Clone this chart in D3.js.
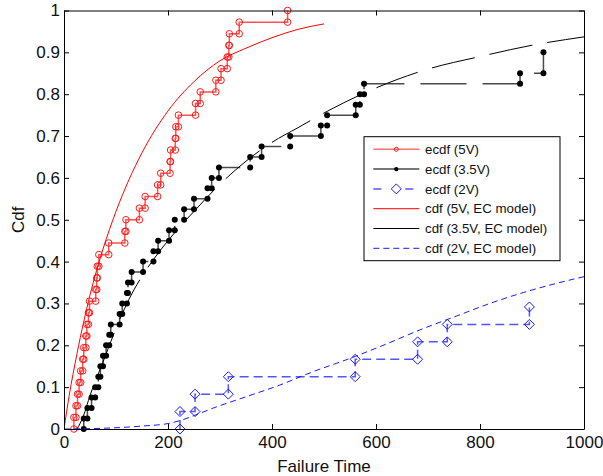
<!DOCTYPE html>
<html>
<head>
<meta charset="utf-8">
<script src="https://cdn.jsdelivr.net/npm/d3@7"></script>
<style>
  html, body { margin: 0; padding: 0; background: #fff; }
  svg { display: block; font-family: "Liberation Sans", Arial, Helvetica, sans-serif; }
</style>
</head>
<body>
<svg id="chart" width="603" height="476"></svg>
<script>
// Failure times (observed failures) for each stress level
const failures5V = [19, 23, 26, 29, 32, 36, 38, 42, 44, 47, 49, 61, 63, 64, 67, 86, 117, 119, 145, 156,
                    180, 186, 204, 205, 214, 215, 220, 253, 262, 292, 302, 314, 317, 318, 337, 430];
const failures35V = [38, 45, 53, 60, 66, 70, 75, 81, 87, 90, 107, 112, 121, 123, 130, 152, 172, 181, 202, 213,
                     231, 250, 276, 284, 298, 358, 380, 435, 494, 506, 561, 569, 577, 877, 922, 922];
const failures2V = [223, 252, 316, 560, 680, 737, 895];
// Sample sizes (units on test) per stress level
const sampleSizes = { "5V": 36, "3.5V": 40, "2V": 24 };

// EC model cdf, sampled at [time, probability]
const model5V = [[0, 0], [10, 0.08], [25, 0.18], [50, 0.32], [75, 0.43], [100, 0.52], [150, 0.66],
                 [200, 0.76], [250, 0.83], [300, 0.88], [350, 0.91], [400, 0.935], [450, 0.955], [500, 0.968]];
const model35V = [[25, 0], [37, 0.03], [50, 0.08], [75, 0.16], [100, 0.24], [125, 0.31], [150, 0.365],
                  [175, 0.41], [200, 0.45], [250, 0.52], [300, 0.585], [350, 0.64], [400, 0.685],
                  [450, 0.72], [500, 0.755], [600, 0.815], [700, 0.86], [800, 0.89], [900, 0.917], [1000, 0.937]];
const model2V = [[0, 0], [100, 0.003], [150, 0.007], [200, 0.013], [223, 0.02], [250, 0.032], [287, 0.05],
                 [350, 0.077], [415, 0.105], [479, 0.137], [544, 0.166], [608, 0.197], [691, 0.24],
                 [755, 0.27], [819, 0.30], [883, 0.326], [947, 0.348], [1000, 0.364]];

const xTicks = [0, 200, 400, 600, 800, 1000];
const xTickLabels = ["0", "200", "400", "600", "800", "1000"];
const yTicks = [0, 0.1, 0.2, 0.3, 0.4, 0.5, 0.6, 0.7, 0.8, 0.9, 1];
const yTickLabels = ["0", "0.1", "0.2", "0.3", "0.4", "0.5", "0.6", "0.7", "0.8", "0.9", "1"];
const legendLabels = ["ecdf (5V)", "ecdf (3.5V)", "ecdf (2V)",
                      "cdf (5V, EC model)", "cdf (3.5V, EC model)", "cdf (2V, EC model)"];

const svg = d3.select("#chart");
const plot = { left: 64, right: 584, top: 10.5, bottom: 429 };

const x = d3.scaleLinear().domain([0, 1000]).range([plot.left, plot.right]);
const y = d3.scaleLinear().domain([0, 1]).range([plot.bottom, plot.top]);

svg.append("defs").append("clipPath").attr("id", "clip")
  .append("rect").attr("x", plot.left).attr("y", plot.top - 6)
  .attr("width", plot.right - plot.left).attr("height", plot.bottom - plot.top + 12);

// Empirical cdf as stair vertices: (t, F before) then (t, F after)
function ecdfVertices(times, n) {
  const sorted = times.slice().sort((a, b) => a - b);
  const groups = d3.rollups(sorted, v => v.length, d => d).sort((a, b) => a[0] - b[0]);
  const pts = [];
  let cum = 0;
  groups.forEach(([t, c]) => {
    pts.push([t, cum / n]);
    cum += c;
    pts.push([t, cum / n]);
  });
  return pts;
}

const stairLine = d3.line().x(d => x(d[0])).y(d => y(d[1]));
const curveLine = d3.line().x(d => x(d[0])).y(d => y(d[1])).curve(d3.curveMonotoneX);

const g = svg.append("g").attr("clip-path", "url(#clip)");

const diamond = (cx, cy, r) => `M${cx},${cy - r}L${cx + r},${cy}L${cx},${cy + r}L${cx - r},${cy}Z`;

// ecdf 5V
const e5 = ecdfVertices(failures5V, sampleSizes["5V"]);
g.append("path").attr("d", stairLine(e5)).attr("fill", "none")
  .attr("stroke", "#ff5252").attr("stroke-width", 1.5);
g.selectAll(".m5").data(e5).join("circle")
  .attr("cx", d => x(d[0])).attr("cy", d => y(d[1])).attr("r", 3.3)
  .attr("fill", "none").attr("stroke", "#ff1a1a").attr("stroke-width", 1);

// ecdf 3.5V
const e35 = ecdfVertices(failures35V, sampleSizes["3.5V"]);
g.append("path").attr("d", stairLine(e35)).attr("fill", "none")
  .attr("stroke", "#4a4a4a").attr("stroke-width", 1.5).attr("stroke-dasharray", "46,16");
g.selectAll(".m35").data(e35).join("circle")
  .attr("cx", d => x(d[0])).attr("cy", d => y(d[1])).attr("r", 3)
  .attr("fill", "#000");

// ecdf 2V
const e2 = ecdfVertices(failures2V, sampleSizes["2V"]);
g.append("path").attr("d", stairLine(e2)).attr("fill", "none")
  .attr("stroke", "#5555ff").attr("stroke-width", 1.5).attr("stroke-dasharray", "9,5");
g.selectAll(".m2").data(e2).join("path")
  .attr("d", d => diamond(x(d[0]), y(d[1]), 5))
  .attr("fill", "none").attr("stroke", "#1a1aff").attr("stroke-width", 1);

// EC model curves
g.append("path").attr("d", curveLine(model5V)).attr("fill", "none")
  .attr("stroke", "#ff0000").attr("stroke-width", 1);
g.append("path").attr("d", curveLine(model35V)).attr("fill", "none")
  .attr("stroke", "#000").attr("stroke-width", 1).attr("stroke-dasharray", "44,15");
g.append("path").attr("d", curveLine(model2V)).attr("fill", "none")
  .attr("stroke", "#1a1aff").attr("stroke-width", 1).attr("stroke-dasharray", "6,4");

// Axes: inward ticks on all four sides
const tickFont = 17;
svg.append("g").attr("transform", `translate(0,${plot.bottom})`)
  .call(d3.axisBottom(x).tickValues(xTicks).tickFormat((d, i) => xTickLabels[i])
    .tickSizeInner(-5).tickSizeOuter(0).tickPadding(7));
svg.append("g").attr("transform", `translate(${plot.left},0)`)
  .call(d3.axisLeft(y).tickValues(yTicks).tickFormat((d, i) => yTickLabels[i])
    .tickSizeInner(-5).tickSizeOuter(0).tickPadding(4));
svg.append("g").attr("transform", `translate(0,${plot.top})`)
  .call(d3.axisTop(x).tickValues(xTicks).tickFormat("").tickSizeInner(-5).tickSizeOuter(0));
svg.append("g").attr("transform", `translate(${plot.right},0)`)
  .call(d3.axisRight(y).tickValues(yTicks).tickFormat("").tickSizeInner(-5).tickSizeOuter(0));

svg.selectAll(".domain, .tick line").attr("stroke", "#000").attr("stroke-width", 1);
svg.selectAll(".tick text").attr("font-size", tickFont).attr("fill", "#111")
  .attr("font-family", "'Liberation Sans', Arial, sans-serif");

// Axis titles
svg.append("text").attr("x", (plot.left + plot.right) / 2).attr("y", 471.5)
  .attr("text-anchor", "middle").attr("font-size", 17).attr("fill", "#111").text("Failure Time");
svg.append("text").attr("transform", `translate(23.5,${(plot.top + plot.bottom) / 2}) rotate(-90)`)
  .attr("text-anchor", "middle").attr("font-size", 17).attr("fill", "#111").text("Cdf");

// Legend
const lg = svg.append("g");
const lx = 364, ly = 136.7, lw = 196, lh = 124;
lg.append("rect").attr("x", lx).attr("y", ly).attr("width", lw).attr("height", lh)
  .attr("fill", "#fff").attr("stroke", "#000").attr("stroke-width", 1);
const legendStyles = [
  { stroke: "#ff7070", width: 1.5, dash: null, marker: "circle" },
  { stroke: "#4a4a4a", width: 1.5, dash: null, marker: "dot" },
  { stroke: "#5555ff", width: 1.5, dash: "8,24", marker: "diamond" },
  { stroke: "#ff0000", width: 1, dash: null, marker: null },
  { stroke: "#000", width: 1, dash: null, marker: null },
  { stroke: "#1a1aff", width: 1, dash: "6,4", marker: null }
];
legendLabels.forEach((label, i) => {
  const cy = 149.3 + i * 19.8;
  const st = legendStyles[i];
  const ln = lg.append("line").attr("x1", 373.3).attr("x2", 419.3).attr("y1", cy).attr("y2", cy)
    .attr("stroke", st.stroke).attr("stroke-width", st.width);
  if (st.dash) ln.attr("stroke-dasharray", st.dash);
  if (st.marker === "circle") {
    lg.append("circle").attr("cx", 396.3).attr("cy", cy).attr("r", 2)
      .attr("fill", "none").attr("stroke", "#ff1a1a").attr("stroke-width", 1);
  } else if (st.marker === "dot") {
    lg.append("circle").attr("cx", 396.3).attr("cy", cy).attr("r", 2.2).attr("fill", "#000");
  } else if (st.marker === "diamond") {
    lg.append("path").attr("d", diamond(396.3, cy, 5)).attr("fill", "none")
      .attr("stroke", "#1a1aff").attr("stroke-width", 1);
  }
  lg.append("text").attr("x", 425).attr("y", cy).attr("dy", "0.35em")
    .attr("font-size", 13.3).attr("fill", "#111").text(label);
});
</script>
</body>
</html>
